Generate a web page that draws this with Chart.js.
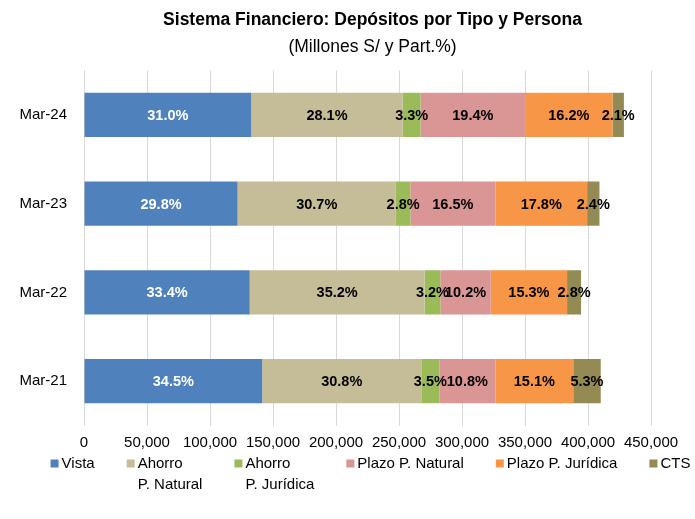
<!DOCTYPE html>
<html>
<head>
<meta charset="utf-8">
<script src="https://cdn.jsdelivr.net/npm/chart.js@4"></script>
<style>
  html, body { margin: 0; padding: 0; background: #fff; }
  #wrap { width: 695px; height: 519px; }
</style>
</head>
<body>
<div id="wrap"><canvas id="chart"></canvas></div>
<script>
const FONT = "'Liberation Sans', Arial, sans-serif";

// categorias (de arriba hacia abajo)
const periodos = ['Mar-24', 'Mar-23', 'Mar-22', 'Mar-21'];

// montos en millones S/
const vista       = [132700, 121900, 131500, 141400];
const ahorroNat   = [120300, 125600, 138800, 126300];
const ahorroJur   = [14100, 11500, 12500, 14300];
const plazoNat    = [83000, 67500, 40000, 44500];
const plazoJur    = [69400, 72800, 60600, 61800];
const cts         = [9000, 9800, 11100, 21800];

// participacion (%) tal como aparece en las barras
const pctVista     = ['31.0%', '29.8%', '33.4%', '34.5%'];
const pctAhorroNat = ['28.1%', '30.7%', '35.2%', '30.8%'];
const pctAhorroJur = ['3.3%', '2.8%', '3.2%', '3.5%'];
const pctPlazoNat  = ['19.4%', '16.5%', '10.2%', '10.8%'];
const pctPlazoJur  = ['16.2%', '17.8%', '15.3%', '15.1%'];
const pctCts       = ['2.1%', '2.4%', '2.8%', '5.3%'];

// eje x
const xMax = 450000;
const xStep = 50000;

// etiquetas de porcentaje centradas en cada segmento
const segmentLabels = {
  id: 'segmentLabels',
  afterDatasetsDraw(chart) {
    const ctx = chart.ctx;
    ctx.save();
    ctx.font = 'bold 14.5px ' + FONT;
    ctx.textAlign = 'center';
    ctx.textBaseline = 'middle';
    chart.data.datasets.forEach((ds, i) => {
      const meta = chart.getDatasetMeta(i);
      meta.data.forEach((bar, j) => {
        const p = bar.getProps(['x', 'y', 'base'], true);
        ctx.fillStyle = ds.labelColor;
        ctx.fillText(ds.pct[j], (p.x + p.base) / 2, p.y + 1);
      });
    });
    ctx.restore();
  }
};

// leyenda abajo, con etiquetas de dos lineas (cuadro alineado a la primera)
const legendBottom = {
  id: 'legendBottom',
  afterDraw(chart) {
    const ctx = chart.ctx;
    const box = 8, textGap = 3, gap = 32, lineH = 21;
    ctx.save();
    ctx.font = '15px ' + FONT;
    ctx.textBaseline = 'middle';
    ctx.textAlign = 'left';
    const items = chart.data.datasets.map(ds => {
      const lines = [].concat(ds.label);
      const tw = Math.max(...lines.map(l => ctx.measureText(l).width));
      return { lines, color: ds.backgroundColor, w: box + textGap + tw };
    });
    const total = items.reduce((s, it) => s + it.w, 0) + gap * (items.length - 1);
    const ca = chart.chartArea;
    let x = (ca.left + ca.right) / 2 + 3 - total / 2;
    const y = ca.bottom + 38;
    items.forEach(it => {
      ctx.fillStyle = it.color;
      ctx.fillRect(x, y - box / 2, box, box);
      ctx.fillStyle = '#000';
      it.lines.forEach((l, k) => ctx.fillText(l, x + box + textGap, y + k * lineH));
      x += it.w + gap;
    });
    ctx.restore();
  }
};

// titulo algo corrido a la derecha, como en el original
const shiftTitle = {
  id: 'shiftTitle',
  afterLayout(chart) {
    chart.boxes.forEach(b => {
      if (!b.axis && b.position === 'top') {
        b.left += 25;
        b.right += 25;
      }
    });
  }
};

new Chart(document.getElementById('chart'), {
  type: 'bar',
  data: {
    labels: periodos,
    datasets: [
      { label: 'Vista', data: vista, pct: pctVista, backgroundColor: '#4F81BD', labelColor: '#ffffff' },
      { label: ['Ahorro', 'P. Natural'], data: ahorroNat, pct: pctAhorroNat, backgroundColor: '#C4BD97', labelColor: '#000000' },
      { label: ['Ahorro', 'P. Jurídica'], data: ahorroJur, pct: pctAhorroJur, backgroundColor: '#9BBB59', labelColor: '#000000' },
      { label: 'Plazo P. Natural', data: plazoNat, pct: pctPlazoNat, backgroundColor: '#D99694', labelColor: '#000000' },
      { label: 'Plazo P. Jurídica', data: plazoJur, pct: pctPlazoJur, backgroundColor: '#F79646', labelColor: '#000000' },
      { label: 'CTS', data: cts, pct: pctCts, backgroundColor: '#948A54', labelColor: '#000000' }
    ]
  },
  options: {
    indexAxis: 'y',
    responsive: true,
    maintainAspectRatio: false,
    animation: false,
    categoryPercentage: 1,
    barPercentage: 0.5,
    layout: { padding: { top: 0, bottom: 59.5, left: 0, right: 0 } },
    plugins: {
      title: {
        display: true,
        text: 'Sistema Financiero: Depósitos por Tipo y Persona',
        color: '#000',
        font: { family: FONT, size: 17.5, weight: 'bold' },
        padding: { top: 10, bottom: 6 }
      },
      subtitle: {
        display: true,
        text: '(Millones S/ y Part.%)',
        color: '#000',
        font: { family: FONT, size: 17.5, weight: 'normal' },
        padding: { top: 0, bottom: 12.5 }
      },
      legend: { display: false },
      tooltip: { enabled: false }
    },
    scales: {
      x: {
        stacked: true,
        min: 0,
        max: xMax,
        grid: { color: '#d9d9d9', drawTicks: false },
        border: { display: false },
        ticks: {
          stepSize: xStep,
          color: '#000',
          padding: 8,
          maxRotation: 0,
          font: { family: FONT, size: 15 },
          callback: v => v.toLocaleString('en-US')
        },
        afterFit(scale) { scale.paddingRight = 44; }
      },
      y: {
        stacked: true,
        grid: { display: false, drawTicks: false },
        border: { color: '#d9d9d9' },
        ticks: { color: '#000', padding: 17, font: { family: FONT, size: 15 } },
        afterFit(scale) { scale.width = 84; }
      }
    }
  },
  plugins: [segmentLabels, legendBottom, shiftTitle]
});
</script>
</body>
</html>
